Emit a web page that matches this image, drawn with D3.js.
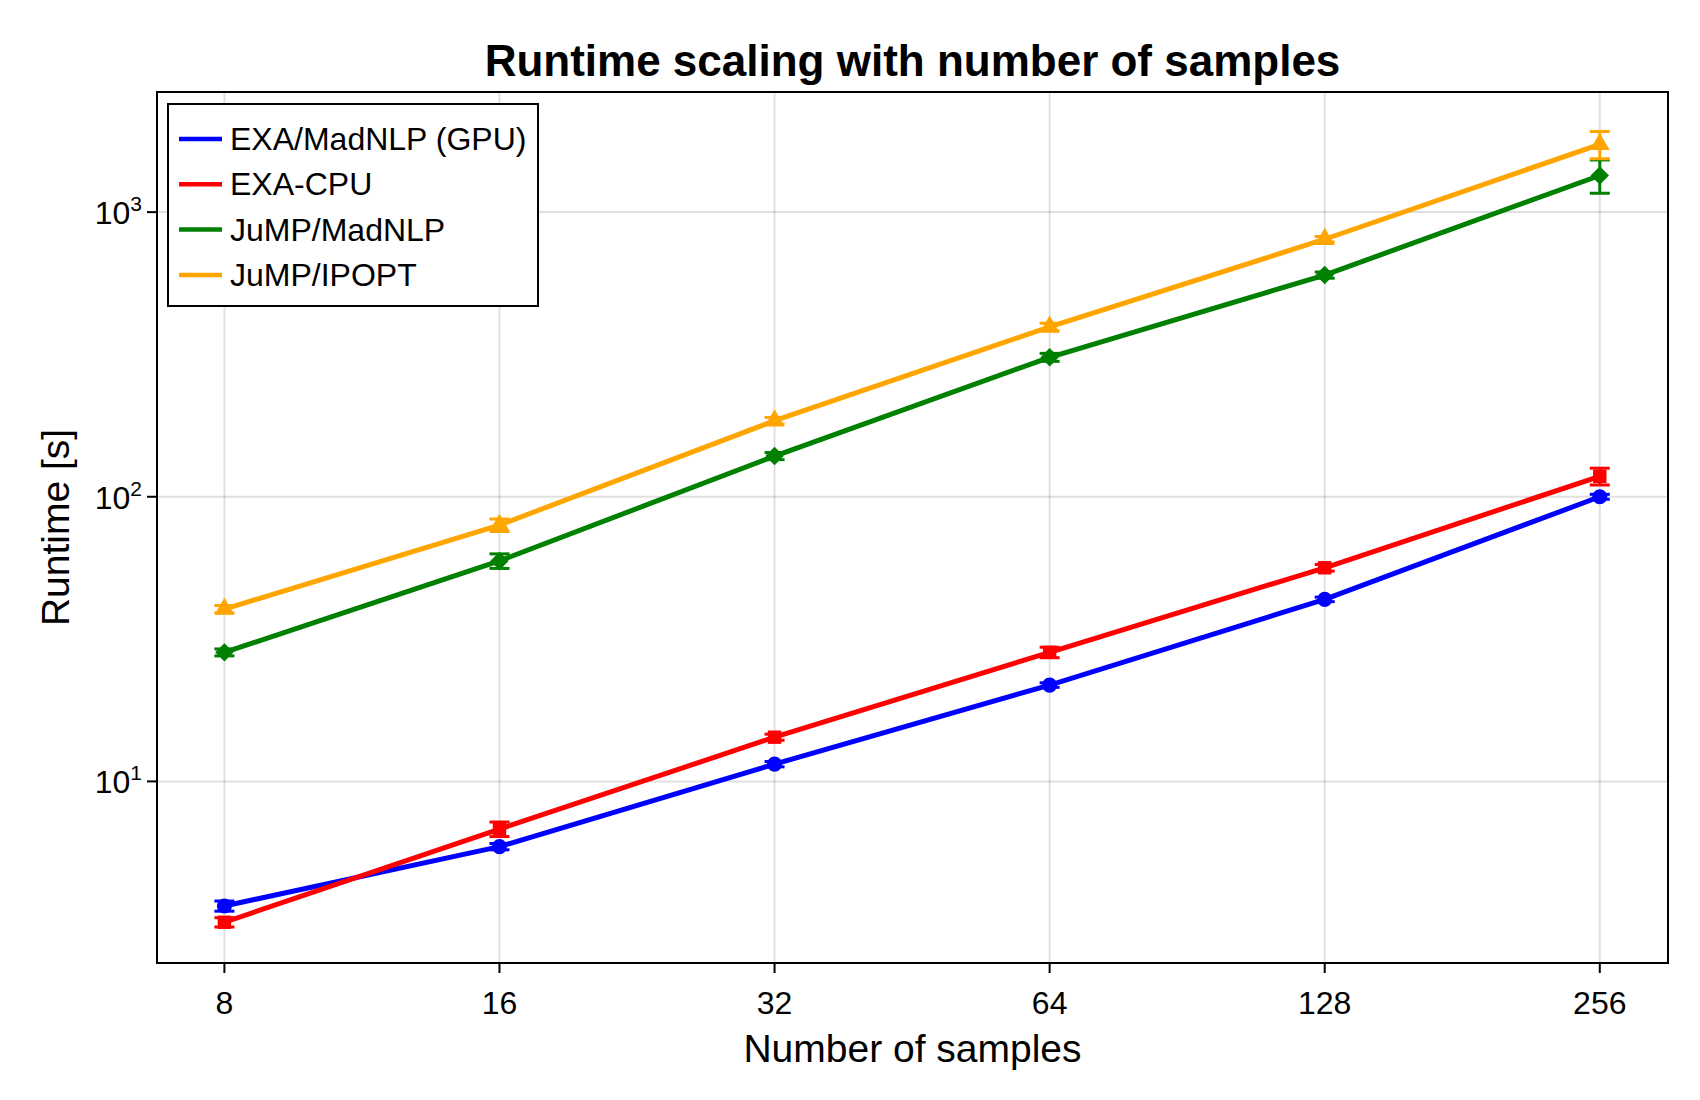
<!DOCTYPE html>
<html>
<head>
<meta charset="utf-8">
<script src="https://cdn.jsdelivr.net/npm/d3@7"></script>
<style>
  body { margin: 0; background: white; }
  text { font-family: "Liberation Sans", Arial, sans-serif; }
</style>
</head>
<body>
<div id="chart"></div>
<script>
// Runtime scaling chart, log-log

var samples = [8, 16, 32, 64, 128, 256];
var gpu        = [3.65, 5.9, 11.5, 21.8, 43.6, 100];
var gpuErr     = [0.15, 0.15, 0.25, 0.4, 0.8, 2];
var cpu        = [3.2, 6.8, 14.3, 28.4, 56.3, 118];
var cpuErr     = [0.12, 0.4, 0.35, 1.2, 1.5, 8];
var jumpMad    = [28.4, 59.5, 139, 309, 601, 1345];
var jumpMadErr = [0.8, 3.5, 4, 10, 15, 180];
var ipopt      = [40.3, 79.5, 185, 395, 803, 1730];
var ipoptErr   = [1.2, 4, 5, 12, 18, 190];
var yTicks = [10, 100, 1000];

var series = [
  {name: "EXA/MadNLP (GPU)", values: gpu, err: gpuErr, color: "#0000ff", marker: "circle"},
  {name: "EXA-CPU", values: cpu, err: cpuErr, color: "#ff0000", marker: "square"},
  {name: "JuMP/MadNLP", values: jumpMad, err: jumpMadErr, color: "#008000", marker: "diamond"},
  {name: "JuMP/IPOPT", values: ipopt, err: ipoptErr, color: "#ffa500", marker: "triangle"}
];

var width = 1700, height = 1100;
var margin = {left: 157, right: 32, top: 92, bottom: 137};

var svg = d3.select("#chart").append("svg")
    .attr("width", width)
    .attr("height", height);

var x = d3.scaleLog().base(2)
    .domain([Math.pow(2, 2.755), Math.pow(2, 8.248)])
    .range([margin.left, width - margin.right]);

var y = d3.scaleLog()
    .domain([Math.pow(10, 0.362), Math.pow(10, 3.422)])
    .range([height - margin.bottom, margin.top]);

var plot = svg.append("g");

// grid
plot.selectAll(".gx").data(samples).enter().append("line")
    .attr("x1", function(d) {return x(d);})
    .attr("x2", function(d) {return x(d);})
    .attr("y1", margin.top).attr("y2", height - margin.bottom)
    .attr("stroke", "rgba(0,0,0,0.12)").attr("stroke-width", 2);
plot.selectAll(".gy").data(yTicks).enter().append("line")
    .attr("y1", function(d) {return y(d);})
    .attr("y2", function(d) {return y(d);})
    .attr("x1", margin.left).attr("x2", width - margin.right)
    .attr("stroke", "rgba(0,0,0,0.12)").attr("stroke-width", 2);

svg.append("clipPath").attr("id", "clip").append("rect")
    .attr("x", margin.left).attr("y", margin.top)
    .attr("width", width - margin.left - margin.right)
    .attr("height", height - margin.top - margin.bottom);

var markers = {
  circle: d3.symbol().type(d3.symbolCircle).size(180)(),
  square: d3.symbol().type(d3.symbolSquare).size(180)(),
  diamond: d3.symbol().type(d3.symbolSquare).size(170)(),
  triangle: d3.symbol().type(d3.symbolTriangle).size(170)()
};

var line = d3.line()
    .x(function(d) {return x(d.s);})
    .y(function(d) {return y(d.v);});

var data = svg.append("g").attr("clip-path", "url(#clip)");

series.forEach(function(ser) {
  var pts = samples.map(function(s, i) {return {s: s, v: ser.values[i], e: ser.err[i]};});
  var g = data.append("g");

  // error bars
  var eb = g.selectAll(".eb").data(pts).enter().append("g");
  eb.append("line")
      .attr("x1", function(d) {return x(d.s);})
      .attr("x2", function(d) {return x(d.s);})
      .attr("y1", function(d) {return y(d.v - d.e);})
      .attr("y2", function(d) {return y(d.v + d.e);})
      .attr("stroke", ser.color).attr("stroke-width", 3);
  [-1, 1].forEach(function(sgn) {
    eb.append("line")
        .attr("x1", function(d) {return x(d.s) - 10;})
        .attr("x2", function(d) {return x(d.s) + 10;})
        .attr("y1", function(d) {return y(d.v + sgn * d.e);})
        .attr("y2", function(d) {return y(d.v + sgn * d.e);})
        .attr("stroke", ser.color).attr("stroke-width", 3);
  });

  g.append("path")
      .datum(pts)
      .attr("d", line)
      .attr("fill", "none")
      .attr("stroke", ser.color)
      .attr("stroke-width", 5);

  g.selectAll(".m").data(pts).enter().append("path")
      .attr("d", markers[ser.marker])
      .attr("transform", function(d) {
        return "translate(" + x(d.s) + "," + y(d.v) + ")" + (ser.marker === "diamond" ? " rotate(45)" : "");
      })
      .attr("fill", ser.color);
});

// frame
svg.append("rect")
    .attr("x", margin.left).attr("y", margin.top)
    .attr("width", width - margin.left - margin.right)
    .attr("height", height - margin.top - margin.bottom)
    .attr("fill", "none").attr("stroke", "black").attr("stroke-width", 2);

// x ticks
var xb = height - margin.bottom;
svg.selectAll(".xt").data(samples).enter().append("line")
    .attr("x1", function(d) {return x(d);}).attr("x2", function(d) {return x(d);})
    .attr("y1", xb).attr("y2", xb + 10)
    .attr("stroke", "black").attr("stroke-width", 2);
svg.selectAll(".xl").data(samples).enter().append("text")
    .attr("x", function(d) {return x(d);})
    .attr("y", xb + 51)
    .attr("text-anchor", "middle")
    .attr("font-size", 32)
    .text(function(d) {return d;});

// y ticks
svg.selectAll(".yt").data(yTicks).enter().append("line")
    .attr("y1", function(d) {return y(d);}).attr("y2", function(d) {return y(d);})
    .attr("x1", margin.left - 10).attr("x2", margin.left)
    .attr("stroke", "black").attr("stroke-width", 2);
var yl = svg.selectAll(".yl").data(yTicks).enter().append("text")
    .attr("x", margin.left - 15)
    .attr("y", function(d) {return y(d) + 12;})
    .attr("text-anchor", "end")
    .attr("font-size", 32);
yl.append("tspan").text("10");
yl.append("tspan").attr("dy", -13).attr("font-size", 21)
    .text(function(d) {return Math.round(Math.log10(d));});

// titles
svg.append("text")
    .attr("x", (margin.left + width - margin.right) / 2)
    .attr("y", 76)
    .attr("text-anchor", "middle")
    .attr("font-size", 44)
    .attr("font-weight", "bold")
    .text("Runtime scaling with number of samples");

svg.append("text")
    .attr("x", (margin.left + width - margin.right) / 2)
    .attr("y", 1062)
    .attr("text-anchor", "middle")
    .attr("font-size", 39)
    .text("Number of samples");

svg.append("text")
    .attr("transform", "translate(69," + ((margin.top + height - margin.bottom) / 2) + ") rotate(-90)")
    .attr("text-anchor", "middle")
    .attr("font-size", 39)
    .text("Runtime [s]");

// legend
var legend = svg.append("g");
legend.append("rect")
    .attr("x", 168).attr("y", 104)
    .attr("width", 370).attr("height", 202)
    .attr("fill", "white").attr("stroke", "black").attr("stroke-width", 2);
var li = legend.selectAll(".li").data(series).enter().append("g")
    .attr("transform", function(d, i) {return "translate(0," + (139 + i * 45.3) + ")";});
li.append("line")
    .attr("x1", 179).attr("x2", 222)
    .attr("stroke", function(d) {return d.color;})
    .attr("stroke-width", 4.5);
li.append("text")
    .attr("x", 230).attr("y", 11)
    .attr("font-size", 32)
    .text(function(d) {return d.name;});
</script>
</body>
</html>
